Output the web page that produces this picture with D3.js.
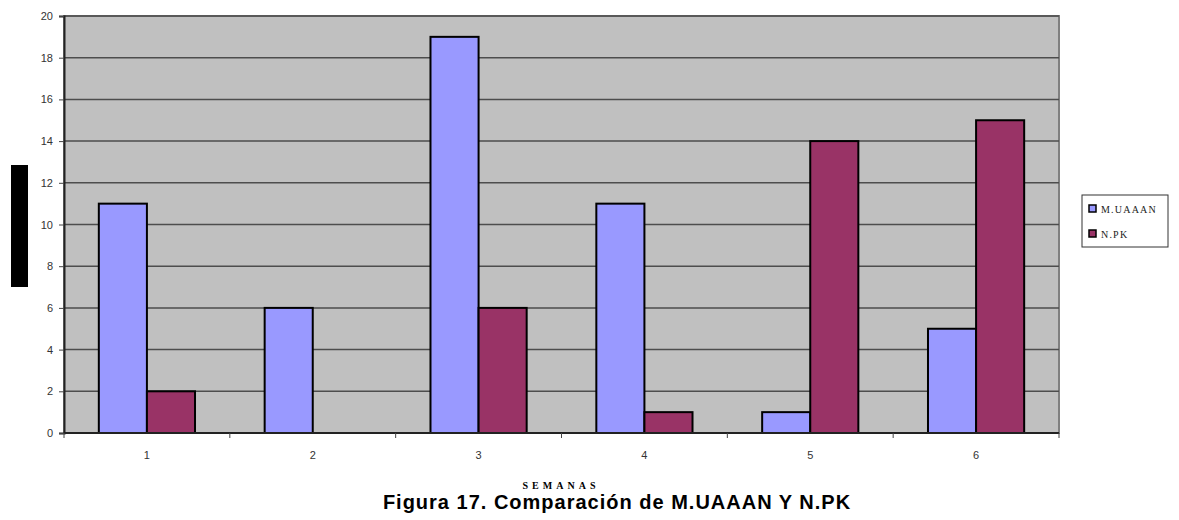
<!DOCTYPE html>
<html>
<head>
<meta charset="utf-8">
<script src="https://cdn.jsdelivr.net/npm/d3@7"></script>
<style>
	body { margin: 0; background: #fff; }
	svg { display: block; }
</style>
</head>
<body>
<script>
	// data
	const semanas = ["1", "2", "3", "4", "5", "6"];
	const seriesNames = ["M.UAAAN", "N.PK"];
	const muaaan = [11, 6, 19, 11, 1, 5];
	const npk = [2, 0, 6, 1, 14, 15];
	const yTicks = [0, 2, 4, 6, 8, 10, 12, 14, 16, 18, 20];
	const colors = ["#9999ff", "#993366"];

	let w = 1179;
	let h = 520;
	let pLeft = 64, pRight = 1059, pTop = 16, pBottom = 433;

	const svg = d3.select("body").append("svg").attr("width", w).attr("height", h);

	const xScale = d3.scaleBand().domain(semanas).range([pLeft, pRight]).paddingInner(0.42).paddingOuter(0.21);
	const xSub = d3.scaleBand().domain(seriesNames).range([0, xScale.bandwidth()]);
	const yScale = d3.scaleLinear().domain([0, 20]).range([pBottom, pTop]);

	// plot background
	svg.append("rect")
		.attr("x", pLeft).attr("y", pTop)
		.attr("width", pRight - pLeft).attr("height", pBottom - pTop)
		.attr("fill", "#c0c0c0")
		.attr("stroke", "#808080").attr("stroke-width", 2);

	// gridlines
	svg.append("g").selectAll("line")
		.data(yTicks.filter((d) => d > 0))
		.enter().append("line")
		.attr("x1", pLeft).attr("x2", pRight)
		.attr("y1", (d) => yScale(d)).attr("y2", (d) => yScale(d))
		.attr("stroke", "#4d4d4d").attr("stroke-width", 1.5);

	// bars
	const rows = semanas.map((s, i) => ({ s: s, vals: [muaaan[i], npk[i]] }));
	const groups = svg.append("g").selectAll("g")
		.data(rows).enter().append("g")
		.attr("transform", (d) => "translate(" + xScale(d.s) + ",0)");
	groups.selectAll("rect")
		.data((d) => d.vals.map((v, j) => ({ name: seriesNames[j], v: v, j: j })).filter((d) => d.v > 0))
		.enter().append("rect")
		.attr("x", (d) => xSub(d.name))
		.attr("y", (d) => yScale(d.v))
		.attr("width", xSub.bandwidth())
		.attr("height", (d) => pBottom - yScale(d.v))
		.attr("fill", (d) => colors[d.j])
		.attr("stroke", "#000").attr("stroke-width", 2);

	// y axis
	const yAxis = d3.axisLeft(yScale).tickValues(yTicks).tickSize(5).tickPadding(6);
	const gy = svg.append("g").attr("transform", "translate(" + pLeft + ",0)").call(yAxis);
	gy.select(".domain").attr("stroke", "#222").attr("stroke-width", 2);
	gy.selectAll(".tick line").attr("stroke", "#444");
	gy.selectAll("text").attr("font-family", "Liberation Sans, Arial, sans-serif").attr("font-size", 11).attr("fill", "#333");

	// x axis: ticks at category boundaries, labels centred
	const bounds = d3.range(semanas.length + 1).map((i) => pLeft + i * (pRight - pLeft) / semanas.length);
	svg.append("line").attr("x1", pLeft).attr("x2", pRight).attr("y1", pBottom).attr("y2", pBottom)
		.attr("stroke", "#222").attr("stroke-width", 2);
	svg.append("g").selectAll("line").data(bounds).enter().append("line")
		.attr("x1", (d) => d).attr("x2", (d) => d)
		.attr("y1", pBottom).attr("y2", pBottom + 5)
		.attr("stroke", "#444");
	svg.append("g").selectAll("text").data(semanas).enter().append("text")
		.attr("x", (d) => xScale(d) + xScale.bandwidth() / 2)
		.attr("y", 459)
		.attr("text-anchor", "middle")
		.attr("font-family", "Liberation Sans, Arial, sans-serif").attr("font-size", 11).attr("fill", "#333")
		.text((d) => d);

	// hidden y-axis title block
	svg.append("rect").attr("x", 11).attr("y", 165).attr("width", 17).attr("height", 122).attr("fill", "#000");

	// legend
	const lg = svg.append("g");
	lg.append("rect").attr("x", 1082).attr("y", 195).attr("width", 86).attr("height", 52)
		.attr("fill", "#fff").attr("stroke", "#333").attr("stroke-width", 1);
	seriesNames.forEach((n, i) => {
		lg.append("rect").attr("x", 1089).attr("y", 205 + i * 25).attr("width", 7).attr("height", 7)
			.attr("fill", colors[i]).attr("stroke", "#000").attr("stroke-width", 1.5);
		lg.append("text").attr("x", 1101).attr("y", 213 + i * 25)
			.attr("font-family", "Liberation Serif, Times New Roman, serif").attr("font-size", 10)
			.attr("letter-spacing", 1.2).attr("fill", "#222")
			.text(n);
	});

	// axis title and figure caption
	svg.append("text").attr("x", 561).attr("y", 489).attr("text-anchor", "middle")
		.attr("font-family", "Liberation Serif, Times New Roman, serif").attr("font-size", 10)
		.attr("font-weight", "bold").attr("letter-spacing", 4).text("SEMANAS");
	svg.append("text").attr("x", 617).attr("y", 509).attr("text-anchor", "middle")
		.attr("font-family", "Liberation Sans, Arial, sans-serif").attr("font-size", 20)
		.attr("font-weight", "bold").attr("letter-spacing", 1).text("Figura 17. Comparación de M.UAAAN Y N.PK");
</script>
</body>
</html>
